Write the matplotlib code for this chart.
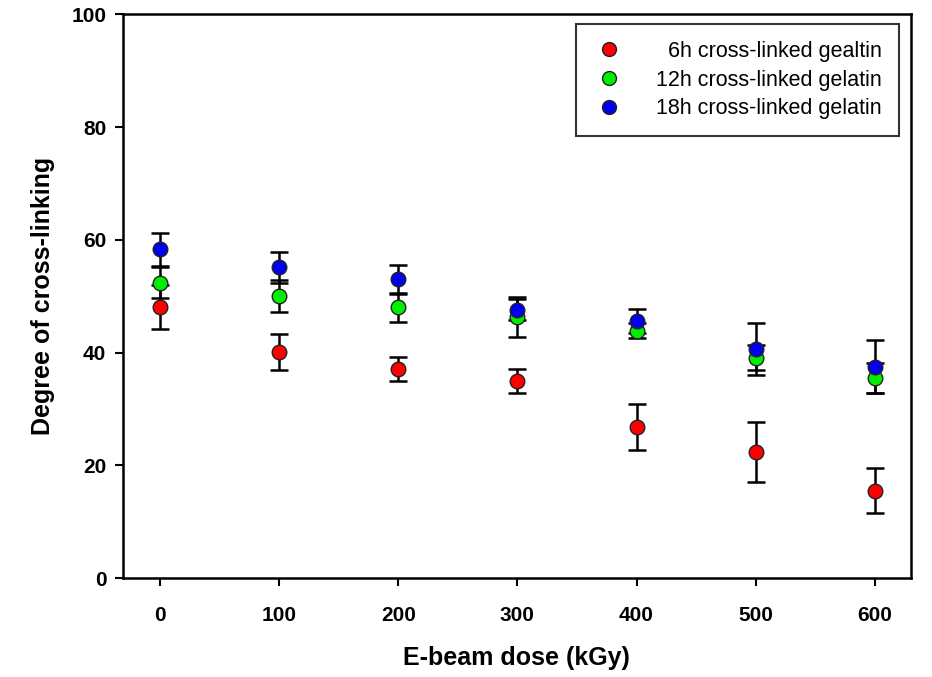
import matplotlib
matplotlib.use("Agg")
import matplotlib.pyplot as plt
from matplotlib.lines import Line2D

plt.rcParams["font.family"] = ["Liberation Sans", "DejaVu Sans"]

dose = [0, 100, 200, 300, 400, 500, 600]

red_y = [48.0, 40.1, 37.1, 35.0, 26.8, 22.4, 15.5]
red_err = [3.9, 3.2, 2.2, 2.1, 4.1, 5.3, 4.0]
green_y = [52.4, 50.0, 48.0, 46.3, 43.9, 39.1, 35.5]
green_err = [2.7, 2.8, 2.5, 3.5, 1.4, 2.2, 2.6]
blue_y = [58.3, 55.1, 53.0, 47.6, 45.6, 40.7, 37.5]
blue_err = [2.9, 2.8, 2.6, 1.9, 2.1, 4.6, 4.7]

labels = ["\u20076h cross-linked gealtin", "12h cross-linked gelatin", "18h cross-linked gelatin"]
colors = ["#ff0000", "#00ee00", "#0000ee"]

fig = plt.figure(figsize=(9.32, 6.77), dpi=100)
ax = fig.add_axes([0.132, 0.146, 0.845, 0.833])

handles = []
for y, e, c, lab in zip([red_y, green_y, blue_y], [red_err, green_err, blue_err], colors, labels):
    ax.errorbar(dose, y, yerr=e, fmt="o", color="black", ecolor="black",
                markerfacecolor=c, markeredgecolor="#222222", markersize=10.5,
                elinewidth=1.8, capsize=6.5, capthick=1.8)
    handles.append(Line2D([], [], linestyle="none", marker="o", markersize=10,
                          markerfacecolor=c, markeredgecolor="#222222", label=lab))

ax.set_xlim(-31, 630)
ax.set_ylim(0, 100)
ax.set_xticks(dose)
ax.set_yticks([0, 20, 40, 60, 80, 100])
ax.tick_params(axis="both", direction="out", length=6, width=1.5, labelsize=15)
ax.tick_params(axis="x", pad=14)
ax.tick_params(axis="y", pad=6)
for t in ax.get_xticklabels() + ax.get_yticklabels():
    t.set_fontweight("bold")
for s in ax.spines.values():
    s.set_linewidth(1.8)

ax.set_xlabel("E-beam dose (kGy)", fontsize=18, fontweight="bold", labelpad=15)
ax.set_ylabel("Degree of cross-linking", fontsize=18, fontweight="bold", labelpad=12)

leg = ax.legend(handles=handles, loc="upper right", bbox_to_anchor=(0.985, 0.983),
                fontsize=15.5, frameon=True, fancybox=False, edgecolor="black",
                handletextpad=1.4, handlelength=1.5, borderpad=0.8,
                labelspacing=0.35, borderaxespad=0)
leg.get_frame().set_linewidth(1.5)

fig.savefig("out.png", dpi=100)
